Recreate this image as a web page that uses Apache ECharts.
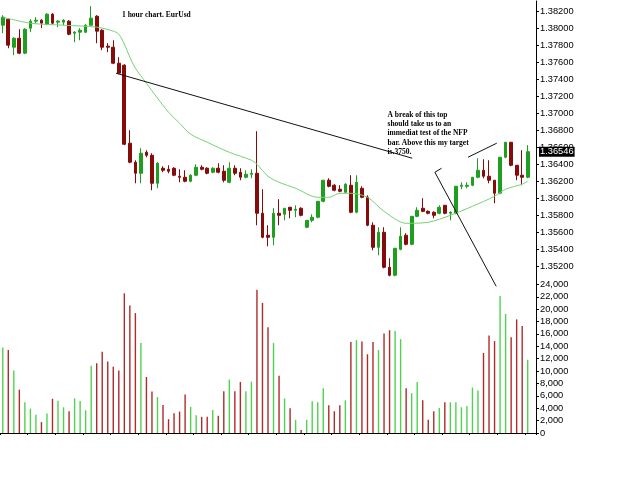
<!DOCTYPE html>
<html><head><meta charset="utf-8">
<script src="https://cdn.jsdelivr.net/npm/echarts@6/dist/echarts.min.js"></script>
<style>html,body{margin:0;padding:0;background:#fff}#c{width:625px;height:483px}</style>
</head><body><div id="c"></div>
<script>
// ---- data (1 hour EUR/USD) ----
const opens = [1.38035,1.38106,1.37776,1.37882,1.37706,1.38000,1.38083,1.38094,1.38047,1.38165,
1.38071,1.38071,1.38083,1.37941,1.37953,1.37953,1.38035,1.38141,1.37976,1.37788,
1.37776,1.37588,1.37564,1.36646,1.36422,1.36292,1.36539,1.36504,1.36174,1.36351,
1.36339,1.36351,1.36257,1.36245,1.36198,1.36269,1.36363,1.36351,1.36304,1.36351,
1.36316,1.36186,1.36351,1.36304,1.36245,1.36280,1.36292,1.35821,1.35562,1.35538,
1.35821,1.35809,1.35892,1.35856,1.35880,1.35656,1.35738,1.35774,1.35962,1.36210,
1.36151,1.36104,1.36068,1.36151,1.35833,1.36115,1.36009,1.35680,1.35420,1.35597,
1.35185,1.35091,1.35397,1.35562,1.35456,1.35785,1.35880,1.35844,1.35833,1.35821,
1.35915,1.35821,1.35821,1.36139,1.36139,1.36151,1.36245,1.36327,1.36257,1.36210,
1.36057,1.36481,1.36657,1.36386,1.36269,1.36245];
const closes = [1.38130,1.37800,1.37882,1.37706,1.37988,1.38083,1.38094,1.38059,1.38165,1.38059,
1.38083,1.38094,1.37929,1.37953,1.37976,1.38035,1.38118,1.37965,1.37776,1.37776,
1.37588,1.37470,1.36634,1.36422,1.36292,1.36528,1.36504,1.36174,1.36410,1.36327,
1.36316,1.36269,1.36245,1.36198,1.36269,1.36363,1.36339,1.36292,1.36351,1.36304,
1.36210,1.36351,1.36292,1.36245,1.36280,1.36292,1.35821,1.35538,1.35538,1.35821,
1.35797,1.35880,1.35856,1.35868,1.35797,1.35738,1.35774,1.35962,1.36210,1.36139,
1.36092,1.36080,1.36163,1.35833,1.36186,1.36009,1.35680,1.35420,1.35597,1.35185,
1.35091,1.35409,1.35550,1.35456,1.35785,1.35856,1.35844,1.35821,1.35797,1.35892,
1.35821,1.35833,1.36139,1.36151,1.36151,1.36245,1.36327,1.36257,1.36210,1.36057,
1.36481,1.36657,1.36386,1.36269,1.36245,1.36546];
const lows = [1.37941,1.37764,1.37682,1.37694,1.37694,1.37953,1.38059,1.38000,1.38035,1.38047,
1.38012,1.38035,1.37917,1.37835,1.37858,1.37941,1.38035,1.37823,1.37741,1.37717,
1.37576,1.37458,1.36622,1.36410,1.36174,1.36174,1.36481,1.36092,1.36115,1.36304,
1.36292,1.36257,1.36186,1.36186,1.36186,1.36257,1.36327,1.36280,1.36292,1.36292,
1.36186,1.36174,1.36269,1.36210,1.36233,1.36233,1.35680,1.35527,1.35432,1.35444,
1.35680,1.35738,1.35762,1.35774,1.35785,1.35645,1.35715,1.35762,1.35950,1.36127,
1.36080,1.36068,1.36057,1.35821,1.35821,1.35998,1.35668,1.35385,1.35326,1.35173,
1.35079,1.35079,1.35385,1.35444,1.35444,1.35774,1.35833,1.35809,1.35762,1.35809,
1.35809,1.35738,1.35809,1.36104,1.36115,1.36139,1.36233,1.36233,1.36174,1.35939,
1.36045,1.36469,1.36374,1.36210,1.36151,1.36233];
const highs = [1.38153,1.38118,1.37894,1.37988,1.38000,1.38106,1.38130,1.38106,1.38177,1.38177,
1.38094,1.38106,1.38094,1.37965,1.38000,1.38047,1.38259,1.38153,1.37988,1.37823,
1.37858,1.37659,1.37576,1.36799,1.36445,1.36587,1.36563,1.36528,1.36422,1.36375,
1.36386,1.36363,1.36339,1.36327,1.36280,1.36398,1.36386,1.36363,1.36363,1.36410,
1.36386,1.36422,1.36386,1.36351,1.36327,1.36339,1.36787,1.36104,1.35680,1.35880,
1.35986,1.35880,1.35892,1.35915,1.35892,1.35738,1.35809,1.35962,1.36210,1.36233,
1.36163,1.36151,1.36174,1.36269,1.36269,1.36139,1.36033,1.35715,1.35656,1.35656,
1.35291,1.35409,1.35656,1.35586,1.35785,1.35892,1.35998,1.35856,1.35844,1.35915,
1.35915,1.35844,1.36139,1.36186,1.36186,1.36245,1.36469,1.36457,1.36445,1.36210,
1.36481,1.36657,1.36657,1.36386,1.36563,1.36622];
const volumes = [13800,13400,10100,7000,4950,3940,2930,1760,3140,5530,
5210,4150,3510,5590,5160,3670,10850,11280,13140,11540,
10690,10110,22560,20590,19360,14520,9040,6700,5800,4520,
2230,3190,3460,6220,4200,2870,2610,2610,3720,2770,
6760,8620,6760,8250,6760,8300,23140,21010,17080,14520,
9260,5590,3990,2130,480,2130,5110,4950,7240,4470,
3510,4470,5270,14680,15000,14790,12710,14680,13410,16070,
16600,16490,15160,7240,6440,8250,5270,2130,3510,4040,
4950,4950,4950,4150,4360,7340,6860,12930,15750,14840,
22130,19210,15480,18350,17290,11810];
// moving average at some bars
const maIdx = [0,5,11,17,20,21,22,23,24,26,28,30,32,34,37,41,45,46,48,50,53,57,59,61,63,66,69,73,77,81,85,89,91,94,95];
const maVal = [1.38130,1.38059,1.38035,1.38012,1.37965,1.37929,1.37812,1.37659,1.37529,1.37352,1.37176,1.37011,1.36881,1.36752,1.36657,1.36539,1.36445,1.36398,1.36257,1.36186,1.36115,1.36009,1.36009,1.36056,1.36056,1.36009,1.35844,1.35703,1.35715,1.35797,1.35903,1.36021,1.36104,1.36163,1.36198];
// hand-drawn trend lines (bar position, price)
const trend1X = [20.5, 74.1], trend1Y = [1.37470, 1.36469];
const trend2X = [84.2, 89.4], trend2Y = [1.36481, 1.36646];
const trend3X = [79.4, 78.2, 89.3], trend3Y = [1.36351, 1.36304, 1.34961];
const lastPrice = 1.36546;
const slots = Array.from({length: 97}, (_, i) => 'H' + i); // one empty slot at right
const titleText = '1 hour chart. EurUsd';
const noteLines = ['A break of this top', 'should take us to an', 'immediat test of the NFP', 'bar. Above this my target', 'is.3750.'];

const UP = '#1f9f1f', DOWN = '#860b0b', VUP = '#4fd34f', VDOWN = '#b02a2a';
const candleData = opens.map((o, i) => [o, closes[i], lows[i], highs[i]]);
const volData = volumes.map((v, i) => ({value: v, itemStyle: {color: closes[i] >= opens[i] ? VUP : VDOWN}}));
const pair = (xs, ys) => xs.map((x, i) => [x, ys[i]]);
const lbl = {color: '#000', fontSize: 9.3, fontFamily: 'Liberation Sans, Arial, sans-serif', margin: 4};
const trendStyle = {color: '#111', width: 1};

const chart = echarts.init(document.getElementById('c'), null, {renderer: 'canvas'});
chart.setOption({
  animation: false,
  backgroundColor: '#fff',
  grid: [
    {left: 0, right: 89, top: 1, bottom: 200},
    {left: 0, right: 89, top: 272, bottom: 50}
  ],
  xAxis: [
    {type: 'category', gridIndex: 0, data: slots, boundaryGap: true, show: false},
    {type: 'category', gridIndex: 1, data: slots, boundaryGap: true,
     axisLine: {lineStyle: {color: '#000', width: 1}},
     axisTick: {show: true, interval: 4, length: 2, lineStyle: {color: '#000'}},
     axisLabel: {show: false}, splitLine: {show: false}},
    {type: 'value', gridIndex: 0, min: -0.5, max: 96.5, show: false}
  ],
  yAxis: [
    {type: 'value', gridIndex: 0, position: 'right', min: 1.35, max: 1.3832, interval: 0.002,
     axisLine: {show: true, onZero: false, lineStyle: {color: '#000'}},
     axisTick: {show: true, length: 3, lineStyle: {color: '#000'}},
     axisLabel: Object.assign({formatter: v => v.toFixed(5), showMinLabel: false, showMaxLabel: false}, lbl),
     splitLine: {show: false}},
    {type: 'value', gridIndex: 1, position: 'right', min: 0, max: 26000, interval: 2000,
     axisLine: {show: true, onZero: false, lineStyle: {color: '#000'}},
     axisTick: {show: true, length: 3, lineStyle: {color: '#000'}},
     axisLabel: Object.assign({showMaxLabel: false}, lbl),
     splitLine: {show: false}}
  ],
  series: [
    {type: 'candlestick', xAxisIndex: 0, yAxisIndex: 0, data: candleData, barWidth: 3.2,
     itemStyle: {color: UP, color0: DOWN, borderColor: UP, borderColor0: DOWN, borderWidth: 1}},
    {type: 'line', xAxisIndex: 2, yAxisIndex: 0, data: pair(maIdx, maVal), smooth: 0.3,
     showSymbol: false, lineStyle: {color: '#74d274', width: 1}, silent: true, z: 3},
    {type: 'line', xAxisIndex: 2, yAxisIndex: 0, data: pair(trend1X, trend1Y), showSymbol: false, lineStyle: trendStyle, silent: true, clip: false, z: 4,
     markLine: {silent: true, symbol: 'none', precision: 5, lineStyle: {color: 'rgba(0,0,0,0)', width: 0, type: 'solid'},
       label: {show: true, position: 'end', distance: 3, formatter: () => lastPrice.toFixed(5),
               backgroundColor: '#000', color: '#fff', fontSize: 9.3,
               fontFamily: 'Liberation Sans, Arial, sans-serif', padding: [1, 1, 0, 1]},
       data: [{yAxis: lastPrice}]}},
    {type: 'line', xAxisIndex: 2, yAxisIndex: 0, data: pair(trend2X, trend2Y), showSymbol: false, lineStyle: trendStyle, silent: true, clip: false, z: 4},
    {type: 'line', xAxisIndex: 2, yAxisIndex: 0, data: pair(trend3X, trend3Y), showSymbol: false, lineStyle: trendStyle, silent: true, clip: false, z: 4},
    {type: 'bar', xAxisIndex: 1, yAxisIndex: 1, data: volData, barWidth: 1.4}
  ],
  graphic: [
    {type: 'text', left: 122, top: 11, style: {text: titleText, fill: '#000', fontSize: 7.5, fontWeight: 'bold', fontFamily: 'Liberation Serif, Times New Roman, serif'}},
    {type: 'text', left: 387.5, top: 110.5, style: {text: noteLines.join('\n'), fill: '#000', fontSize: 7.5, lineHeight: 9.2, fontWeight: 'bold', fontFamily: 'Liberation Serif, Times New Roman, serif'}}
  ]
});
</script></body></html>
